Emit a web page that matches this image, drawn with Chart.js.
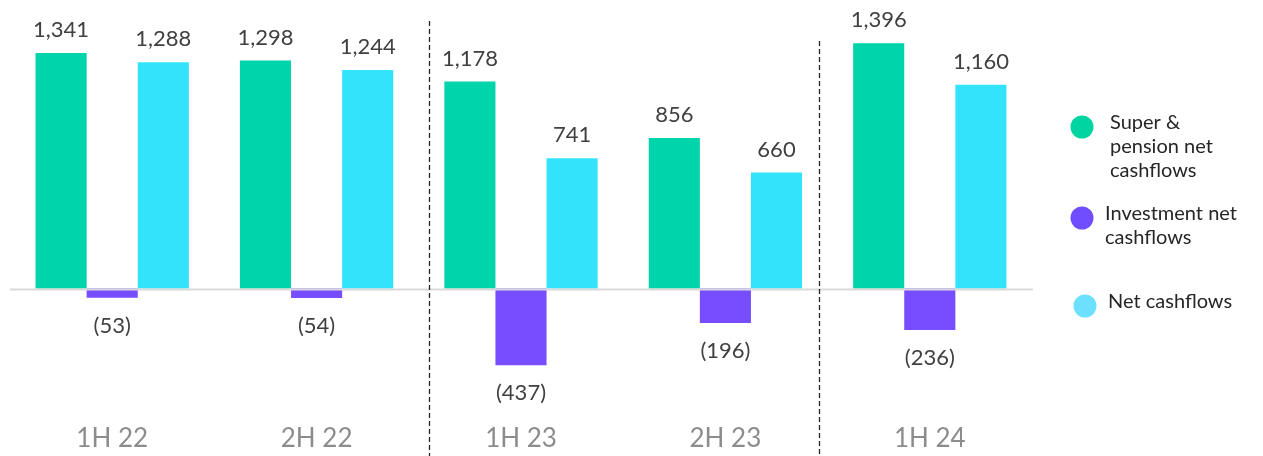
<!DOCTYPE html>
<html>
<head>
<meta charset="utf-8">
<script src="https://cdn.jsdelivr.net/npm/chart.js@4"></script>
<style>
  html, body { margin: 0; padding: 0; background: #fff; }
  #wrap { position: relative; width: 1263px; height: 456px; }
</style>
</head>
<body>
<div id="wrap"><canvas id="cashChart"></canvas></div>
<script>
// data
const periods = ['1H 22', '2H 22', '1H 23', '2H 23', '1H 24'];
const superPension = [1341, 1298, 1178, 856, 1396];
const investment = [-53, -54, -437, -196, -236];
const netCashflows = [1288, 1244, 741, 660, 1160];
const seriesNames = [['Super &', 'pension net', 'cashflows'], ['Investment net', 'cashflows'], ['Net cashflows']];
// dashed dividers, in category units
const dividers = [1.55, 3.46];

const fontFam = "'Lato', 'Noto Sans', sans-serif";

function fmt(v) {
  const s = Math.abs(v).toLocaleString('en-US');
  return v < 0 ? '(' + s + ')' : s;
}

// value labels + dividers + legend
const extras = {
  id: 'extras',
  afterDatasetsDraw(chart) {
    const ctx = chart.ctx;
    const x = chart.scales.x;
    const area = chart.chartArea;
    ctx.save();

    // zero line
    const y0 = chart.scales.y.getPixelForValue(0);
    ctx.strokeStyle = '#d9d9d9';
    ctx.lineWidth = 2;
    ctx.beginPath();
    ctx.moveTo(area.left, y0 + 1);
    ctx.lineTo(area.right + 1, y0 + 1);
    ctx.stroke();

    // dividers
    ctx.strokeStyle = '#222';
    ctx.lineWidth = 1.3;
    ctx.setLineDash([5, 3]);
    const tops = [21, 41];
    dividers.forEach((d, i) => {
      const px = Math.round(x.getPixelForValue(d)) + 0.5;
      ctx.beginPath();
      ctx.moveTo(px, tops[i]);
      ctx.lineTo(px, chart.height);
      ctx.stroke();
    });
    ctx.setLineDash([]);

    // value labels
    ctx.font = '22px ' + fontFam;
    ctx.fillStyle = '#404040';
    ctx.textAlign = 'center';
    ctx.textBaseline = 'middle';
    chart.data.datasets.forEach((ds, di) => {
      const meta = chart.getDatasetMeta(di);
      meta.data.forEach((bar, i) => {
        const v = ds.data[i];
        const y = v >= 0 ? bar.y - 23 : bar.y + 28;
        ctx.fillText(fmt(v), bar.x, y);
      });
    });

    // legend
    const legendY = [127, 218, 306];
    const legendX = [1082, 1082, 1085];
    const textX = [1110, 1105, 1108];
    ctx.textAlign = 'left';
    ctx.font = '20px ' + fontFam;
    chart.data.datasets.forEach((ds, di) => {
      ctx.fillStyle = ds.legendColor;
      ctx.beginPath();
      ctx.arc(legendX[di], legendY[di], 11.5, 0, Math.PI * 2);
      ctx.fill();
      ctx.fillStyle = '#262626';
      const lines = seriesNames[di];
      lines.forEach((ln, li) => {
        ctx.fillText(ln, textX[di], legendY[di] - 4 + li * 24);
      });
    });
    ctx.restore();
  }
};

new Chart(document.getElementById('cashChart'), {
  type: 'bar',
  data: {
    labels: periods,
    datasets: [
      { label: 'Super & pension net cashflows', data: superPension, backgroundColor: '#00d4aa', legendColor: '#00d4a0' },
      { label: 'Investment net cashflows', data: investment, backgroundColor: '#774dff', legendColor: '#704dff' },
      { label: 'Net cashflows', data: netCashflows, backgroundColor: '#33e3fc', legendColor: '#6ee0ff' }
    ]
  },
  options: {
    responsive: true,
    maintainAspectRatio: false,
    animation: false,
    layout: { padding: { left: 10, right: 231, top: 10, bottom: 0 } },
    datasets: { bar: { categoryPercentage: 0.75, barPercentage: 1.0 } },
    plugins: { legend: { display: false }, tooltip: { enabled: false } },
    scales: {
      x: {
        grid: { display: false },
        border: { display: false },
        ticks: { color: '#8c8c8c', font: { family: fontFam, size: 26 }, padding: 2 }
      },
      y: {
        display: false,
        min: -707,
        max: 1585
      }
    }
  },
  plugins: [extras]
});
</script>
</body>
</html>
